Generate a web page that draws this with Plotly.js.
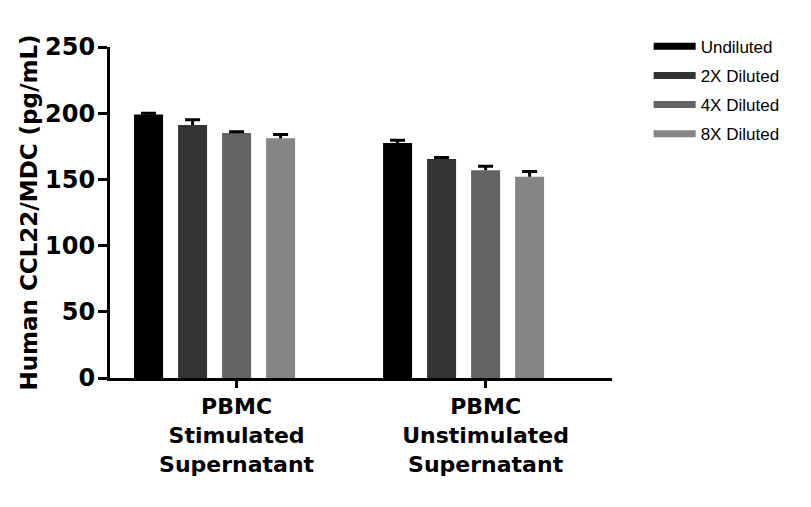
<!DOCTYPE html>
<html>
<head>
<meta charset="utf-8">
<script src="https://cdn.plot.ly/plotly-3.0.1.min.js"></script>
<style>html,body{margin:0;padding:0;background:#fff;}#chart{width:811px;height:507px;}</style>
</head>
<body>
<div id="chart"></div>
<script>
// Data
const categories = ["PBMC<br>Stimulated<br>Supernatant", "PBMC<br>Unstimulated<br>Supernatant"];
const seriesNames = ["Undiluted", "2X Diluted", "4X Diluted", "8X Diluted"];
const undiluted = [199, 177.5];
const diluted2x = [191, 165.5];
const diluted4x = [185, 157];
const diluted8x = [181, 152];
const err_undiluted = [1, 2];
const err_2x = [4, 1];
const err_4x = [1, 3];
const err_8x = [3, 4];
const yTicks = [0, 50, 100, 150, 200, 250];

const colors = ["#000000", "#333333", "#636363", "#858585"];
const values = [undiluted, diluted2x, diluted4x, diluted8x];
const errs = [err_undiluted, err_2x, err_4x, err_8x];
const xpos = categories.map((c, i) => i);

const bargap = 0.293;
const slot = (1 - bargap) / seriesNames.length;
const tickOffset = slot / 2;

const traces = [];
// bars with error stems (no caps)
seriesNames.forEach((name, k) => {
  traces.push({
    type: "bar",
    x: xpos,
    y: values[k],
    name: name,
    offsetgroup: "g" + k,
    showlegend: false,
    marker: {color: colors[k], line: {width: 0}},
    error_y: {type: "data", symmetric: false, array: errs[k], arrayminus: errs[k].map(() => 0),
              color: "#000", thickness: 3, width: 0},
    hoverinfo: "skip"
  });
});
// transparent overlay bars carrying only the top caps
seriesNames.forEach((name, k) => {
  traces.push({
    type: "bar",
    x: xpos,
    y: values[k].map((v, i) => v + errs[k][i]),
    name: name + " cap",
    offsetgroup: "g" + k,
    showlegend: false,
    marker: {color: "rgba(0,0,0,0)", line: {width: 0}},
    error_y: {type: "data", symmetric: false, array: errs[k].map(() => 0), arrayminus: errs[k].map(() => 0),
              color: "#000", thickness: 3, width: 7.5},
    hoverinfo: "skip"
  });
});
// legend entries (line swatches)
seriesNames.forEach((name, k) => {
  traces.push({
    type: "scatter", mode: "lines",
    x: [null], y: [null],
    name: name,
    legendgroup: "l" + k,
    line: {color: colors[k], width: 7},
    hoverinfo: "skip"
  });
});

const layout = {
  width: 811, height: 507,
  margin: {l: 110, r: 199, t: 47, b: 128.5},
  paper_bgcolor: "#fff", plot_bgcolor: "#fff",
  barmode: "group",
  bargap: bargap,
  bargroupgap: 0.341,
  font: {family: "DejaVu Sans, Liberation Sans, Arial, sans-serif", color: "#000"},
  xaxis: {
    range: [-0.42, 1.596],
    tickmode: "array",
    tickvals: xpos.map(v => v + tickOffset),
    ticktext: categories,
    ticks: "outside", ticklen: 7, tickwidth: 3, tickcolor: "#000",
    showline: true, linewidth: 3, linecolor: "#000",
    showgrid: false, zeroline: false,
    tickfont: {family: "DejaVu Sans, sans-serif", size: 22, weight: "bold", color: "#000"}
  },
  yaxis: {
    range: [0, 250],
    tickmode: "array",
    tickvals: yTicks,
    ticktext: yTicks.map(String),
    ticks: "outside", ticklen: 9, tickwidth: 3, tickcolor: "#000",
    ticklabelstandoff: -2,
    showline: true, linewidth: 3, linecolor: "#000",
    showgrid: false, zeroline: false,
    tickfont: {family: "DejaVu Sans, sans-serif", size: 24, weight: "bold", color: "#000"},
    title: {text: "Human CCL22/MDC (pg/mL)", standoff: 2,
            font: {family: "DejaVu Sans, sans-serif", size: 23, weight: "bold", color: "#000"}}
  },
  legend: {
    x: 1.073, y: 1.055, xanchor: "left", yanchor: "top",
    traceorder: "grouped", tracegroupgap: 4,
    itemwidth: 42,
    font: {family: "Liberation Sans, Arial, sans-serif", size: 17, color: "#000"},
    bgcolor: "rgba(0,0,0,0)"
  },
  showlegend: true
};

Plotly.newPlot("chart", traces, layout, {displayModeBar: false, staticPlot: true});
</script>
</body>
</html>
